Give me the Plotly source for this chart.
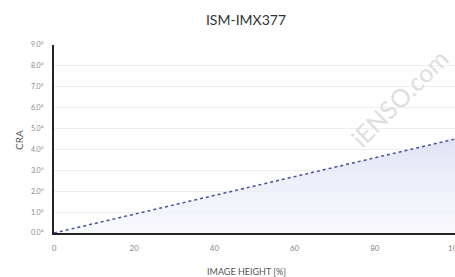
import plotly.graph_objects as go

image_height = [0, 10, 20, 30, 40, 50, 60, 70, 80, 90, 100]
cra_deg = [0.0, 0.45, 0.9, 1.35, 1.8, 2.25, 2.7, 3.15, 3.6, 4.05, 4.5]
y_ticks = [0, 1, 2, 3, 4, 5, 6, 7, 8, 9]
y_tick_labels = ["0.0°", "1.0°", "2.0°", "3.0°", "4.0°", "5.0°", "6.0°", "7.0°", "8.0°", "9.0°"]
x_ticks = [0, 20, 40, 60, 80, 100]

W, H = 464, 277
L, R, T, B = 54, 9, 45, 44
pw, ph = W - L - R, H - T - B

def px(x):
    return (x - L) / pw

def py(y):
    return (H - B - y) / ph

fig = go.Figure()
fig.add_trace(go.Scatter(
    x=image_height, y=cra_deg, mode="lines",
    line=dict(color="#44519f", width=1.5, dash="dot"),
    fill="tozeroy",
    fillgradient=dict(type="vertical", start=0, stop=4.5,
                      colorscale=[[0, "rgba(245,246,252,0.6)"], [1, "rgba(224,227,245,1)"]]),
    hoverinfo="skip", showlegend=False,
))

fig.add_annotation(text="iENSO.com", x=px(399), y=py(98), xref="paper", yref="paper",
                   showarrow=False, textangle=-45, xanchor="center", yanchor="middle",
                   font=dict(family="Lato", size=25, color="#dedede"))
fig.add_annotation(text="IMAGE HEIGHT [%]", x=px(246), y=py(271), xref="paper", yref="paper",
                   showarrow=False, xanchor="center", yanchor="middle",
                   font=dict(family="Lato", size=9, color="#555555"))
fig.add_annotation(text="CRA", x=px(19), y=py(140), xref="paper", yref="paper",
                   showarrow=False, textangle=-90, xanchor="center", yanchor="middle",
                   font=dict(family="Lato", size=10, color="#555555"))

fig.update_layout(
    width=W, height=H,
    margin=dict(l=L, r=R, t=T, b=B),
    paper_bgcolor="white", plot_bgcolor="white",
    font=dict(family="Lato", color="#888888"),
    title=dict(text="ISM-IMX377", x=246/W, xanchor="center", y=1-20/H, yanchor="middle",
               font=dict(family="Lato", size=14, color="#333333")),
    xaxis=dict(range=[0, 100], tickvals=x_ticks, showgrid=False, zeroline=False,
               showline=True, linecolor="#222222", linewidth=2, automargin=False,
               ticks="outside", ticklen=6, tickcolor="rgba(0,0,0,0)",
               tickfont=dict(size=8, color="#888888")),
    yaxis=dict(range=[0, 9], tickvals=y_ticks, ticktext=y_tick_labels,
               showgrid=True, gridcolor="#eeeeee", gridwidth=1, zeroline=False,
               showline=True, linecolor="#222222", linewidth=2, automargin=False,
               ticks="outside", ticklen=7, tickcolor="rgba(0,0,0,0)",
               tickfont=dict(size=7, color="#888888")),
)

fig.write_html("out.html", config={"displayModeBar": False},
               post_script="document.body.style.margin='0';document.body.style.overflow='hidden';")
